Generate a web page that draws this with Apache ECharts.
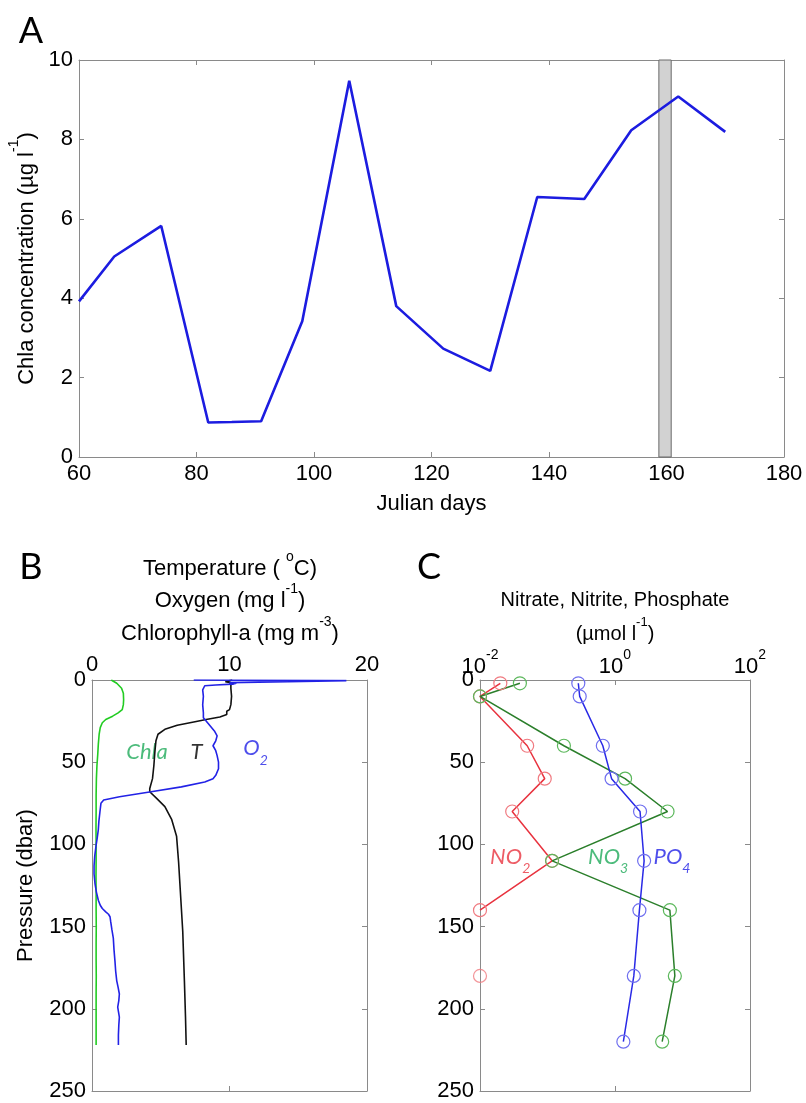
<!DOCTYPE html>
<html><head><meta charset="utf-8">
<script src="https://cdn.jsdelivr.net/npm/echarts@6/dist/echarts.min.js"></script>
<style>html,body{margin:0;padding:0;background:#fff;}#c{width:806px;height:1103px;}</style>
</head><body><div id="c"></div>
<script>
// ---------- Panel A data ----------
const daysA = [60,66,74,82,86,91,98,106,114,122,130,138,146,154,162,170];
const chlaA = [3.92,5.05,5.82,0.87,0.88,0.9,3.42,9.48,3.8,2.73,2.17,6.55,6.5,8.23,9.08,8.19];
const bandA = [158.7,160.8];

// ---------- Panel B data (CTD profile) ----------
const chlaDepthB = [0,2,5,8,12,15,18,20,22,24,26,29,33,39,45,52,60,70,80,90,100,110,120,130,140,150,160,170,180,190,200,210,222];
const chlaValB   = [1.4,1.8,2.15,2.28,2.3,2.28,2.2,1.9,1.5,1.0,0.75,0.6,0.52,0.46,0.42,0.36,0.32,0.3,0.3,0.29,0.3,0.3,0.29,0.3,0.3,0.31,0.3,0.3,0.31,0.3,0.3,0.3,0.3];
const tDepthB = [0,1,2,3,5,10,15,18,19,21,22.5,24,25.5,27.5,30,33,37,43,52,60,66,68,72,77,85,95,111,132,153,183,205,222];
const tValB   = [10.2,9.7,10.3,10.1,10.1,10.15,10.1,10.0,9.8,9.8,9.3,8.3,7.4,6.2,5.3,4.8,4.65,4.58,4.5,4.4,4.2,4.2,4.7,5.3,5.8,6.15,6.3,6.45,6.6,6.72,6.8,6.85];
const o2DepthB = [0,0.4,0.8,1.2,1.6,2.0,2.5,3.0,3.5,4,6,10,15,20,23,25,28,31,34,37,40,43,46,50,54,58,60,62,65,68,71,73,75,80,86,91,96,101,107,113,118,124,129,134,137,139,141,142.5,144,147,152,157,164,171,177,183,187,191,195,199,202,205,210,216,222];
const o2ValB   = [7.4,18.5,18.4,18.5,10.0,10.5,10.2,9.0,8.2,8.1,8.05,8.1,8.05,8.1,8.1,8.3,8.6,8.9,9.1,9.0,8.8,9.0,9.1,9.2,9.2,9.0,8.8,8.2,6.5,4.3,2.0,0.85,0.65,0.58,0.5,0.46,0.38,0.29,0.2,0.15,0.15,0.22,0.32,0.46,0.6,0.75,1.0,1.2,1.31,1.36,1.45,1.55,1.6,1.67,1.72,1.8,1.9,1.99,1.95,1.87,1.93,1.99,1.95,1.92,1.92];

// ---------- Panel C data (bottle samples) ----------
const depthC = [2,10,40,60,80,110,140,180,220];
const no2C = [0.02,0.01,0.05,0.091,0.03,0.117,0.01];   // connected, 2..140 dbar
const no2LooseDepth = [180];
const no2LooseVal = [0.01];
const no3C = [0.039,0.01,0.175,1.41,6.0,0.117,6.5,7.7,5.0];
const po4C = [0.286,0.30,0.66,0.89,2.35,2.7,2.3,1.9,1.33];
const logTicksC = [0.01,1,100];

const FONT = '"Liberation Sans", Arial, sans-serif';
const AX = '#8a8a8a';

function ax(o){
  const base = {
    type:'value', splitLine:{show:false},
    axisLine:{show:true, onZero:false, lineStyle:{color:AX,width:1}},
    axisTick:{show:true, inside:true, length:5, lineStyle:{color:AX}},
    axisLabel:{show:true, color:'#000', fontSize:22, fontFamily:FONT, margin:6}
  };
  const r = Object.assign({}, base, o);
  if (o.axisLabel) r.axisLabel = Object.assign({}, base.axisLabel, o.axisLabel);
  if (o.axisTick) r.axisTick = Object.assign({}, base.axisTick, o.axisTick);
  return r;
}
const noLab = {show:false};
const rich = {
  t:{fontSize:22, fontFamily:FONT, color:'#000', lineHeight:30, verticalAlign:'bottom'},
  s:{fontSize:14, fontFamily:FONT, color:'#000', lineHeight:30, verticalAlign:'top'},
  ts:{fontSize:20, fontFamily:FONT, color:'#000', lineHeight:28, verticalAlign:'bottom'},
  ss:{fontSize:13, fontFamily:FONT, color:'#000', lineHeight:28, verticalAlign:'top'}
};
const supLabel = v => {
  const e = Math.round(Math.log10(v));
  return '{b|10}{e|' + (e < 0 ? '-' + (-e) : e) + '}';
};
const supRich = {
  b:{fontSize:22, fontFamily:FONT, color:'#000', lineHeight:30, verticalAlign:'bottom'},
  e:{fontSize:14, fontFamily:FONT, color:'#000', lineHeight:30, verticalAlign:'top'}
};

const chart = echarts.init(document.getElementById('c'), null, {renderer:'canvas'});

const italicLab = (color) => ({
  show:true, position:'inside', color:color, fontFamily:'Lato, "Open Sans", sans-serif',
  fontStyle:'italic', fontSize:22,
  rich:{
    n:{fontSize:22, fontStyle:'italic', fontFamily:'Lato, sans-serif', color:color, lineHeight:30, verticalAlign:'top'},
    d:{fontSize:14, fontStyle:'italic', fontFamily:'Lato, sans-serif', color:color, lineHeight:30, verticalAlign:'bottom'}
  }
});

const option = {
  animation:false,
  backgroundColor:'#fff',
  grid:[
    {left:79, top:60, width:705, height:397, outerBoundsMode:'none'},
    {left:92, top:680, width:275, height:411, outerBoundsMode:'none'},
    {left:480, top:680, width:270, height:411, outerBoundsMode:'none'}
  ],
  xAxis:[
    ax({gridIndex:0, min:60, max:180, interval:20, position:'bottom',
        name:'Julian days', nameLocation:'middle', nameGap:36,
        nameTextStyle:{fontSize:22, fontFamily:FONT, color:'#000'}}),
    ax({gridIndex:0, min:60, max:180, interval:20, position:'top', axisLabel:noLab}),
    ax({gridIndex:1, min:0, max:20, interval:10, position:'top', axisLabel:{margin:4}}),
    ax({gridIndex:1, min:0, max:20, interval:10, position:'bottom', axisLabel:noLab}),
    ax({gridIndex:2, type:'log', logBase:10, min:0.01, max:100, position:'top',
        axisLabel:{customValues:logTicksC, formatter:supLabel, rich:supRich, margin:2},
        axisTick:{customValues:logTicksC}}),
    ax({gridIndex:2, type:'log', logBase:10, min:0.01, max:100, position:'bottom',
        axisLabel:{show:false, customValues:logTicksC}, axisTick:{customValues:logTicksC}})
  ],
  yAxis:[
    ax({gridIndex:0, min:0, max:10, interval:2, position:'left',
        name:'{t|Chla concentration (µg l}{s|-1}{t|)}', nameLocation:'middle', nameGap:36, nameRotate:90,
        nameTextStyle:{rich:rich}}),
    ax({gridIndex:0, min:0, max:10, interval:2, position:'right', axisLabel:noLab}),
    ax({gridIndex:1, min:0, max:250, interval:50, inverse:true, position:'left',
        name:'Pressure (dbar)', nameLocation:'middle', nameGap:55, nameRotate:90,
        nameTextStyle:{fontSize:22, fontFamily:FONT, color:'#000'}}),
    ax({gridIndex:1, min:0, max:250, interval:50, inverse:true, position:'right', axisLabel:noLab}),
    ax({gridIndex:2, min:0, max:250, interval:50, inverse:true, position:'left'}),
    ax({gridIndex:2, min:0, max:250, interval:50, inverse:true, position:'right', axisLabel:noLab})
  ],
  graphic:[
    {type:'text', x:31, y:31, style:{text:'A', font:'36px Lato, sans-serif', fill:'#000', align:'center', verticalAlign:'middle'}},
    {type:'text', x:31, y:567, style:{text:'B', font:'36px Lato, sans-serif', fill:'#000', align:'center', verticalAlign:'middle'}},
    {type:'text', x:429, y:567, style:{text:'C', font:'36px Lato, sans-serif', fill:'#000', align:'center', verticalAlign:'middle'}},
    {type:'text', x:230, y:565, style:{text:'{t|Temperature ( }{s|o}{t|C)}', rich:rich, align:'center', verticalAlign:'middle'}},
    {type:'text', x:230, y:597, style:{text:'{t|Oxygen (mg l}{s|-1}{t|)}', rich:rich, align:'center', verticalAlign:'middle'}},
    {type:'text', x:230, y:630, style:{text:'{t|Chlorophyll-a (mg m}{s|-3}{t|)}', rich:rich, align:'center', verticalAlign:'middle'}},
    {type:'text', x:615, y:596, style:{text:'{ts|Nitrate, Nitrite, Phosphate}', rich:rich, align:'center', verticalAlign:'middle'}},
    {type:'text', x:615, y:630, style:{text:'{ts|(µmol l}{ss|-1}{ts|)}', rich:rich, align:'center', verticalAlign:'middle'}}
  ],
  series:[
    {type:'line', xAxisIndex:0, yAxisIndex:0, data:daysA.map((d,i)=>[d,chlaA[i]]),
     showSymbol:false, symbol:'none', lineStyle:{color:'#1c1ce0', width:2.6}, z:5,
     markArea:{silent:true, itemStyle:{color:'#d2d2d2', borderColor:'#6a6a6a', borderWidth:1},
       data:[[{xAxis:bandA[0]},{xAxis:bandA[1]}]]}},
    {type:'line', xAxisIndex:2, yAxisIndex:2, data:chlaDepthB.map((d,i)=>[chlaValB[i],d]),
     showSymbol:false, symbol:'none', lineStyle:{color:'#22cc22', width:1.6}},
    {type:'line', xAxisIndex:2, yAxisIndex:2, data:tDepthB.map((d,i)=>[tValB[i],d]),
     showSymbol:false, symbol:'none', lineStyle:{color:'#111', width:1.6}},
    {type:'line', xAxisIndex:2, yAxisIndex:2, data:o2DepthB.map((d,i)=>[o2ValB[i],d]),
     showSymbol:false, symbol:'none', lineStyle:{color:'#2222e6', width:1.6}},
    {type:'scatter', xAxisIndex:2, yAxisIndex:2, symbolSize:0, silent:true,
     data:[
       {value:[4.0,44], label:Object.assign(italicLab('#1faa5a'),{formatter:'Chla'})},
       {value:[7.6,44], label:Object.assign(italicLab('#000'),{formatter:'T'})},
       {value:[11.9,44], label:Object.assign(italicLab('#2222e6'),{formatter:'{n|O}{d|2}'})}
     ]},
    {type:'line', xAxisIndex:4, yAxisIndex:4, clip:false, data:no2C.map((v,i)=>[v,depthC[i]]),
     symbol:'circle', symbolSize:13, showSymbol:true,
     itemStyle:{color:'rgba(0,0,0,0)', borderColor:'#f07a80', borderWidth:1.2},
     lineStyle:{color:'#e8333f', width:1.5}},
    {type:'scatter', xAxisIndex:4, yAxisIndex:4, clip:false, data:no2LooseVal.map((v,i)=>[v,no2LooseDepth[i]]),
     symbol:'circle', symbolSize:13,
     itemStyle:{color:'rgba(0,0,0,0)', borderColor:'#f07a80', borderWidth:1.2}},
    {type:'line', xAxisIndex:4, yAxisIndex:4, clip:false, data:no3C.map((v,i)=>[v,depthC[i]]),
     symbol:'circle', symbolSize:13, showSymbol:true,
     itemStyle:{color:'rgba(0,0,0,0)', borderColor:'#5cb85c', borderWidth:1.2},
     lineStyle:{color:'#2b7f2b', width:1.5}},
    {type:'line', xAxisIndex:4, yAxisIndex:4, clip:false, data:po4C.map((v,i)=>[v,depthC[i]]),
     symbol:'circle', symbolSize:13, showSymbol:true,
     itemStyle:{color:'rgba(0,0,0,0)', borderColor:'#6f6fef', borderWidth:1.2},
     lineStyle:{color:'#2a2ae6', width:1.5}},
    {type:'scatter', xAxisIndex:4, yAxisIndex:4, symbolSize:0, silent:true,
     data:[
       {value:[0.028,110], label:Object.assign(italicLab('#e8333f'),{formatter:'{n|NO}{d|2}'})},
       {value:[0.79,110], label:Object.assign(italicLab('#1faa5a'),{formatter:'{n|NO}{d|3}'})},
       {value:[7.0,110], label:Object.assign(italicLab('#2222e6'),{formatter:'{n|PO}{d|4}'})}
     ]}
  ]
};
chart.setOption(option);
</script></body></html>
